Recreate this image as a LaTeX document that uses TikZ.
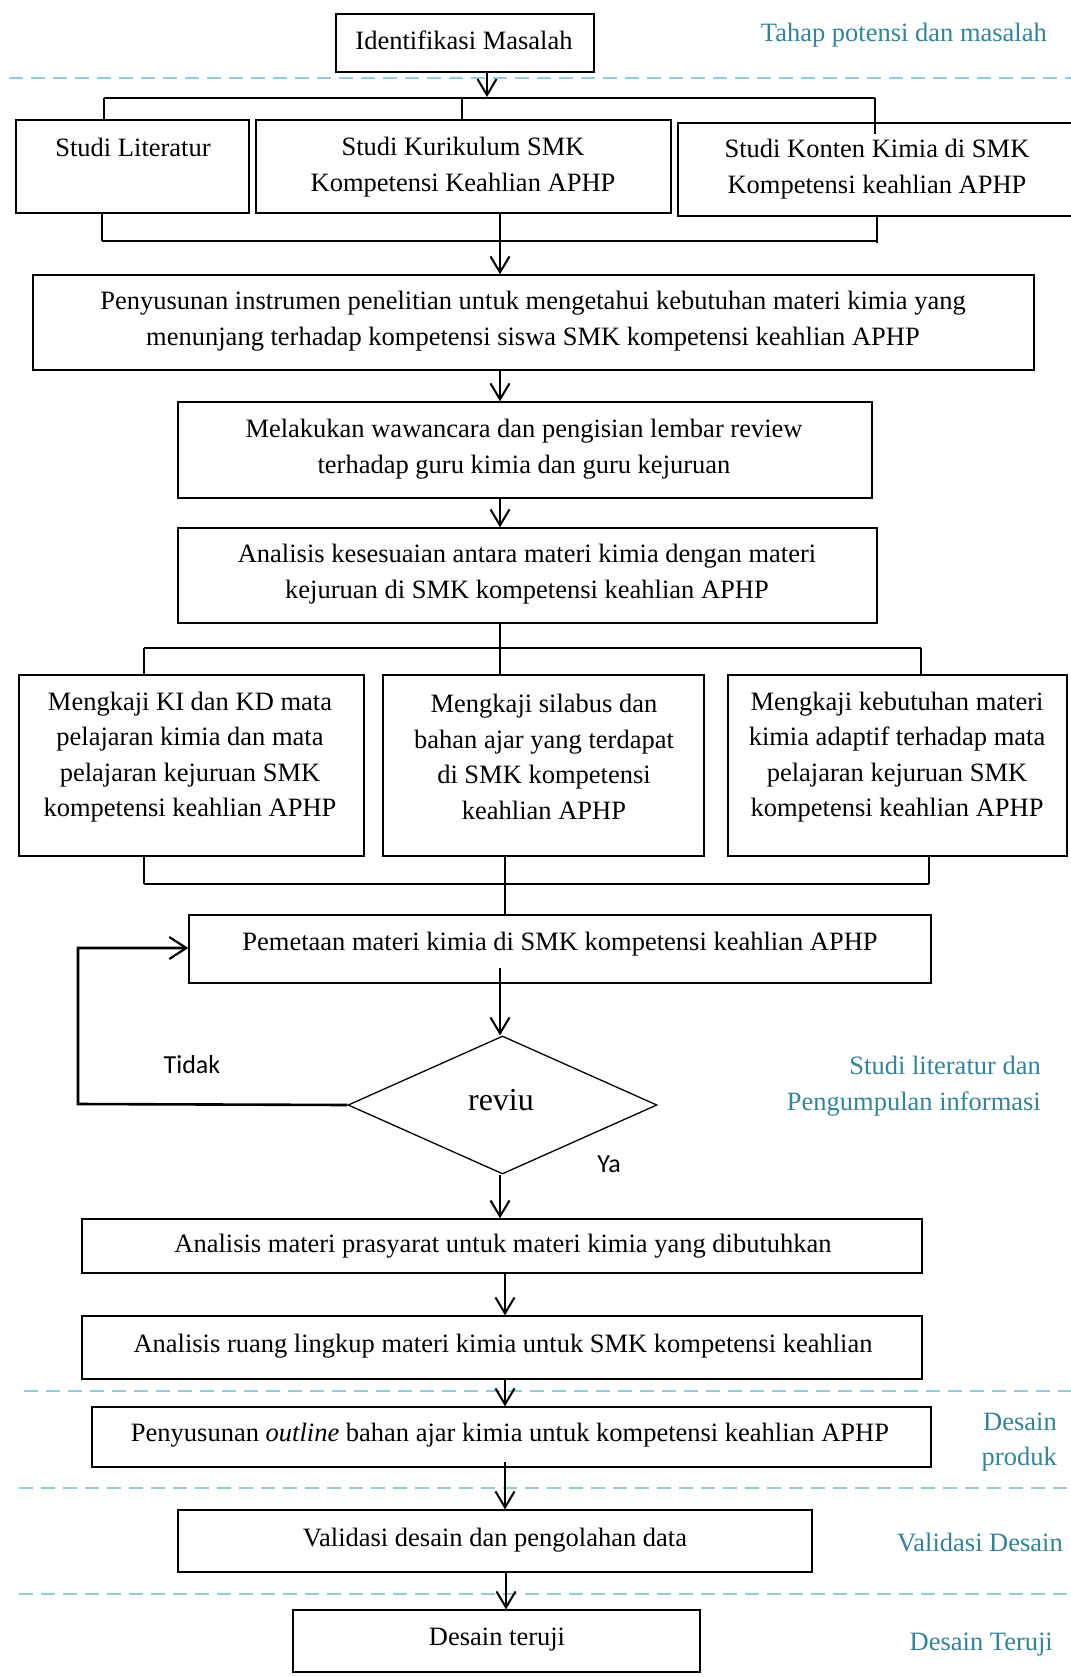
\documentclass[tikz,border=0pt]{standalone}
\usepackage{fontspec}
\setmainfont{Liberation Serif}
\newfontfamily\calfont{Carlito}
\usetikzlibrary{arrows.meta,shapes.geometric}
\definecolor{teal1}{RGB}{49,132,155}
\definecolor{dashblue}{RGB}{146,205,220}
\begin{document}
\begin{tikzpicture}[x=1pt,y=-1pt,
  every node/.style={font=\fontsize{26.5}{35.5}\selectfont},
  box/.style={draw,line width=1.3pt,rectangle,inner sep=0pt},
  txt/.style={align=center,inner sep=0pt},
  lbl/.style={text=teal1,align=right,inner sep=0pt,anchor=east},
  ln/.style={line width=1.6pt},
  bus/.style={line width=2.2pt},
  arr/.style={line width=1.8pt,-{Straight Barb[length=16pt,width=19pt,line width=2pt]}},
  dline/.style={draw=dashblue,line width=2pt,dash pattern=on 14pt off 8pt},
  sans/.style={font=\calfont\fontsize{26}{32}\selectfont,inner sep=0pt}
]
\useasboundingbox[fill=white] (0,0) rectangle (1070,1677);

% dashed separators
\coordinate (d1a) at (9,78);   \coordinate (d1b) at (1075,78);
\coordinate (d2a) at (24,1391); \coordinate (d2b) at (1075,1391);
\coordinate (d3a) at (19,1488); \coordinate (d3b) at (1075,1488);
\coordinate (d4a) at (19,1594); \coordinate (d4b) at (1075,1594);
\draw[dline] (d1a) -- (d1b);
\draw[dline] (d2a) -- (d2b);
\draw[dline] (d3a) -- (d3b);
\draw[dline] (d4a) -- (d4b);

% phase labels
\node[lbl] (l1) at (1047,35) {Tahap potensi dan masalah};
\node[lbl] (l2) at (1041,1086) {Studi literatur dan\\Pengumpulan informasi};
\node[lbl] (l3) at (1057,1442) {Desain\\produk};
\node[lbl] (l4) at (1063,1542) {Validasi Desain};
\node[lbl] (l5) at (1053,1645) {Desain Teruji};

% boxes
\node[box,minimum width=258pt,minimum height=58pt] (idf) at (465,43) {};
\node[txt] (tidf) at (464,40) {Identifikasi Masalah};

\node[box,minimum width=233pt,minimum height=93pt] (lit) at (132.5,166.5) {};
\node[txt] (tlit) at (133,147) {Studi Literatur};
\node[box,minimum width=415pt,minimum height=93pt] (kur) at (463.5,166.5) {};
\node[txt] (tkur) at (463,167) {Studi Kurikulum SMK\\Kompetensi Keahlian APHP};
\node[box,minimum width=404pt,minimum height=93pt] (kon) at (880,169.5) {};
\node[txt] (tkon) at (877,169) {Studi Konten Kimia di SMK\\Kompetensi keahlian APHP};

\node[box,minimum width=1001pt,minimum height=95pt] (ins) at (533.5,322.5) {};
\node[txt] (tins) at (533,321) {Penyusunan instrumen penelitian untuk mengetahui kebutuhan materi kimia yang\\menunjang terhadap kompetensi siswa SMK kompetensi keahlian APHP};

\node[box,minimum width=694pt,minimum height=96pt] (waw) at (525,450) {};
\node[txt] (twaw) at (524,449) {Melakukan wawancara dan pengisian lembar review\\terhadap guru kimia dan guru kejuruan};

\node[box,minimum width=699pt,minimum height=95pt] (ana) at (527.5,575.5) {};
\node[txt] (tana) at (527,574) {Analisis kesesuaian antara materi kimia dengan materi\\kejuruan di SMK kompetensi keahlian APHP};

\node[box,minimum width=345pt,minimum height=181pt] (ki) at (191.5,765.5) {};
\node[txt] (tki) at (190,757) {Mengkaji KI dan KD mata\\pelajaran kimia dan mata\\pelajaran kejuruan SMK\\kompetensi keahlian APHP};
\node[box,minimum width=321pt,minimum height=181pt] (sil) at (543.5,765.5) {};
\node[txt] (tsil) at (544,757) {Mengkaji silabus dan\\bahan ajar yang terdapat\\di SMK kompetensi\\keahlian APHP};
\node[box,minimum width=339pt,minimum height=181pt] (keb) at (897.5,765.5) {};
\node[txt] (tkeb) at (897,757) {Mengkaji kebutuhan materi\\kimia adaptif terhadap mata\\pelajaran kejuruan SMK\\kompetensi keahlian APHP};

\node[box,minimum width=742pt,minimum height=68pt] (pem) at (560,949) {};
\node[txt] (tpem) at (560,944) {Pemetaan materi kimia di SMK kompetensi keahlian APHP};

\node[draw,line width=1.3pt,diamond,minimum width=309pt,minimum height=138pt,inner sep=0pt] (rev) at (502.5,1105) {};
\node[txt,font=\fontsize{32}{38}\selectfont] (trev) at (501,1100) {reviu};

\node[box,minimum width=840pt,minimum height=54pt] (pra) at (502,1246) {};
\node[txt] (tpra) at (503,1246) {Analisis materi prasyarat untuk materi kimia yang dibutuhkan};

\node[box,minimum width=840pt,minimum height=63pt] (rua) at (502,1347.5) {};
\node[txt] (trua) at (503,1346) {Analisis ruang lingkup materi kimia untuk SMK kompetensi keahlian};

\node[box,minimum width=839pt,minimum height=60pt] (out) at (511.5,1437) {};
\node[txt] (tout) at (510,1435) {Penyusunan \textit{outline} bahan ajar kimia untuk kompetensi keahlian APHP};

\node[box,minimum width=634pt,minimum height=62pt] (val) at (495,1541) {};
\node[txt] (tval) at (495,1540) {Validasi desain dan pengolahan data};

\node[box,minimum width=407pt,minimum height=62pt] (ter) at (496.5,1641) {};
\node[txt] (tter) at (497,1640) {Desain teruji};

% decision labels
\node[sans] (tid) at (192,1065) {Tidak};
\node[sans] (ya) at (609,1164) {Ya};

% connectors: top part
\coordinate (b1) at (487,97);
\draw[arr] (idf.south -| b1) -- (b1);
\coordinate (bus1L) at (104,98); \coordinate (bus1R) at (875,98);
\draw[bus] (bus1L) -- (bus1R);
\draw[ln] (bus1L) -- (bus1L |- lit.north);
\draw[ln] (462,98) -- (462,120);
\coordinate (kcross) at (875,134);
\draw[ln] (bus1R) -- (kcross);

\coordinate (bus2L) at (102,241); \coordinate (bus2R) at (877,241);
\draw[bus] (bus2L) -- (bus2R);
\draw[ln] (lit.south -| bus2L) -- (bus2L);
\draw[ln] (kon.south -| bus2R) -- (877,243);
\draw[arr] (kur.south -| 500,0) -- (ins.north -| 500,0);

\draw[arr] (ins.south -| 500,0) -- (waw.north -| 500,0);
\draw[arr] (waw.south -| 500,0) -- (ana.north -| 500,0);

% three boxes
\coordinate (bus3L) at (144,648); \coordinate (bus3R) at (921,648);
\draw[bus] (bus3L) -- (bus3R);
\draw[ln] (ana.south -| 500,0) -- (sil.north -| 500,0);
\draw[ln] (bus3L) -- (ki.north -| bus3L);
\draw[ln] (bus3R) -- (keb.north -| bus3R);

\coordinate (bus4L) at (144,884); \coordinate (bus4R) at (929,884);
\draw[bus] (bus4L) -- (bus4R);
\draw[ln] (ki.south -| bus4L) -- (bus4L);
\draw[ln] (keb.south -| bus4R) -- (bus4R);
\draw[ln] (sil.south -| 505,0) -- (pem.north -| 505,0);

% review loop
\coordinate (pin) at (500,968);
\draw[arr] (pin) -- (rev.north -| pin);
\coordinate (loopA) at (78,1104);
\coordinate (loopB) at (78,948);
\draw[line width=2.6pt,-{Straight Barb[length=17pt,width=22pt,line width=2.2pt]}] (rev.west) -- (loopA) -- (loopB) -- (pem.west |- loopB);
\draw[arr] (rev.south -| pin) -- (pra.north -| pin);

\draw[arr] (pra.south -| 505,0) -- (rua.north -| 505,0);
\draw[arr] (rua.south -| 505,0) -- (out.north -| 505,0);
\coordinate (oin) at (505,1462);
\draw[arr] (oin) -- (val.north -| oin);
\draw[arr] (val.south -| 506,0) -- (ter.north -| 506,0);
\end{tikzpicture}
\end{document}
